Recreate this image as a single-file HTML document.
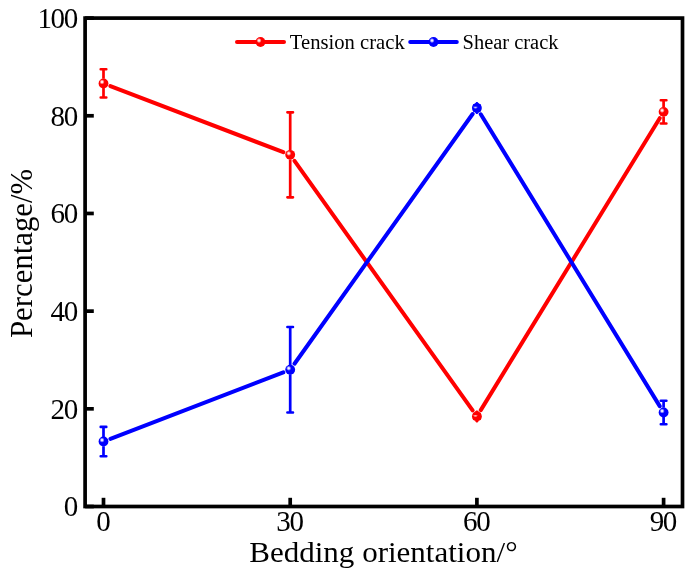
<!DOCTYPE html>
<html><head><meta charset="utf-8"><title>Crack percentage vs bedding orientation</title>
<style>
html,body{margin:0;padding:0;background:#fff;}
svg{display:block;}
text{font-family:"Liberation Serif","Times New Roman",serif;fill:#000;}
</style></head><body>
<svg width="685" height="573" viewBox="0 0 685 573">
<defs>
<radialGradient id="gr" cx="0.35" cy="0.35" r="0.26" fx="0.35" fy="0.35"><stop offset="0" stop-color="#ffffff"/><stop offset="0.3" stop-color="#ffeaea"/><stop offset="1" stop-color="#ff0000"/></radialGradient>
<radialGradient id="gb" cx="0.35" cy="0.35" r="0.26" fx="0.35" fy="0.35"><stop offset="0" stop-color="#ffffff"/><stop offset="0.3" stop-color="#eaeaff"/><stop offset="1" stop-color="#0000ff"/></radialGradient>
</defs>
<rect width="685" height="573" fill="#fff"/>

<line x1="110.41" y1="86.04" x2="283.29" y2="152.21" stroke="#ff0000" stroke-width="4.0" stroke-linecap="round"/>
<line x1="294.50" y1="160.87" x2="472.60" y2="410.37" stroke="#ff0000" stroke-width="4.0" stroke-linecap="round"/>
<line x1="480.77" y1="410.08" x2="659.73" y2="118.18" stroke="#ff0000" stroke-width="4.0" stroke-linecap="round"/>
<circle cx="103.50" cy="83.40" r="4.92" fill="url(#gr)"/>
<circle cx="290.20" cy="154.85" r="4.92" fill="url(#gr)"/>
<circle cx="476.90" cy="416.39" r="4.92" fill="url(#gr)"/>
<circle cx="663.60" cy="111.87" r="4.92" fill="url(#gr)"/>
<path d="M103.50 69.24V78.78M103.50 88.02V97.56" stroke="#ff0000" stroke-width="2.7" fill="none"/>
<path d="M100.70 69.24H106.30M100.70 97.56H106.30" stroke="#ff0000" stroke-width="2.6" stroke-linecap="round" fill="none"/>
<path d="M290.20 112.36V150.23M290.20 159.47V197.34" stroke="#ff0000" stroke-width="2.7" fill="none"/>
<path d="M287.40 112.36H293.00M287.40 197.34H293.00" stroke="#ff0000" stroke-width="2.6" stroke-linecap="round" fill="none"/>
<path d="M474.10 413.84H479.70M474.10 418.94H479.70" stroke="#ff0000" stroke-width="2.6" stroke-linecap="round" fill="none"/>
<path d="M474.80 412.09L476.30 410.39H477.50L479.00 412.09ZM474.80 420.69L476.30 422.39H477.50L479.00 420.69Z" fill="#ff0000"/>
<path d="M663.60 100.30V107.25M663.60 116.49V123.45" stroke="#ff0000" stroke-width="2.7" fill="none"/>
<path d="M660.80 100.30H666.40M660.80 123.45H666.40" stroke="#ff0000" stroke-width="2.6" stroke-linecap="round" fill="none"/>
<line x1="110.41" y1="438.89" x2="283.29" y2="372.40" stroke="#0000ff" stroke-width="4.0" stroke-linecap="round"/>
<line x1="294.50" y1="363.72" x2="472.60" y2="113.99" stroke="#0000ff" stroke-width="4.0" stroke-linecap="round"/>
<line x1="480.77" y1="114.27" x2="659.73" y2="406.17" stroke="#0000ff" stroke-width="4.0" stroke-linecap="round"/>
<circle cx="103.50" cy="441.54" r="4.92" fill="url(#gb)"/>
<circle cx="290.20" cy="369.75" r="4.92" fill="url(#gb)"/>
<circle cx="476.90" cy="107.97" r="4.92" fill="url(#gb)"/>
<circle cx="663.60" cy="412.48" r="4.92" fill="url(#gb)"/>
<path d="M103.50 426.89V436.92M103.50 446.16V456.19" stroke="#0000ff" stroke-width="2.7" fill="none"/>
<path d="M100.70 426.89H106.30M100.70 456.19H106.30" stroke="#0000ff" stroke-width="2.6" stroke-linecap="round" fill="none"/>
<path d="M290.20 327.01V365.13M290.20 374.37V412.48" stroke="#0000ff" stroke-width="2.7" fill="none"/>
<path d="M287.40 327.01H293.00M287.40 412.48H293.00" stroke="#0000ff" stroke-width="2.6" stroke-linecap="round" fill="none"/>
<path d="M474.10 105.42H479.70M474.10 110.52H479.70" stroke="#0000ff" stroke-width="2.6" stroke-linecap="round" fill="none"/>
<path d="M474.80 103.67L476.30 101.97H477.50L479.00 103.67ZM474.80 112.27L476.30 113.97H477.50L479.00 112.27Z" fill="#0000ff"/>
<path d="M663.60 400.76V407.86M663.60 417.10V424.20" stroke="#0000ff" stroke-width="2.7" fill="none"/>
<path d="M660.80 400.76H666.40M660.80 424.20H666.40" stroke="#0000ff" stroke-width="2.6" stroke-linecap="round" fill="none"/>
<rect x="85.1" y="18.1" width="597.4" height="488.4" fill="none" stroke="#000" stroke-width="3.7"/>
<line x1="103.50" y1="506.5" x2="103.50" y2="497.8" stroke="#000" stroke-width="3.7"/>
<text x="102.75" y="531.0" font-size="29.0" letter-spacing="-1.3" text-anchor="middle">0</text>
<line x1="290.20" y1="506.5" x2="290.20" y2="497.8" stroke="#000" stroke-width="3.7"/>
<text x="289.45" y="531.0" font-size="29.0" letter-spacing="-1.3" text-anchor="middle">30</text>
<line x1="476.90" y1="506.5" x2="476.90" y2="497.8" stroke="#000" stroke-width="3.7"/>
<text x="476.15" y="531.0" font-size="29.0" letter-spacing="-1.3" text-anchor="middle">60</text>
<line x1="663.60" y1="506.5" x2="663.60" y2="497.8" stroke="#000" stroke-width="3.7"/>
<text x="662.85" y="531.0" font-size="29.0" letter-spacing="-1.3" text-anchor="middle">90</text>
<line x1="85.1" y1="506.50" x2="93.8" y2="506.50" stroke="#000" stroke-width="3.7"/>
<text x="77.00" y="516.40" font-size="29.0" letter-spacing="-1.3" text-anchor="end">0</text>
<line x1="85.1" y1="408.82" x2="93.8" y2="408.82" stroke="#000" stroke-width="3.7"/>
<text x="77.00" y="418.72" font-size="29.0" letter-spacing="-1.3" text-anchor="end">20</text>
<line x1="85.1" y1="311.14" x2="93.8" y2="311.14" stroke="#000" stroke-width="3.7"/>
<text x="77.00" y="321.04" font-size="29.0" letter-spacing="-1.3" text-anchor="end">40</text>
<line x1="85.1" y1="213.46" x2="93.8" y2="213.46" stroke="#000" stroke-width="3.7"/>
<text x="77.00" y="223.36" font-size="29.0" letter-spacing="-1.3" text-anchor="end">60</text>
<line x1="85.1" y1="115.78" x2="93.8" y2="115.78" stroke="#000" stroke-width="3.7"/>
<text x="77.00" y="125.68" font-size="29.0" letter-spacing="-1.3" text-anchor="end">80</text>
<line x1="85.1" y1="18.10" x2="93.8" y2="18.10" stroke="#000" stroke-width="3.7"/>
<text x="77.00" y="28.00" font-size="29.0" letter-spacing="-1.3" text-anchor="end">100</text>
<text transform="translate(383.4 562.4) scale(1.045 1)" font-size="29.7" text-anchor="middle">Bedding orientation/°</text>
<text transform="translate(31.5 253.4) rotate(-90)" font-size="30.8" text-anchor="middle">Percentage/%</text>
<line x1="237" y1="42" x2="284" y2="42" stroke="#ff0000" stroke-width="4" stroke-linecap="round"/>
<circle cx="260.5" cy="42" r="4.92" fill="url(#gr)"/>
<text transform="translate(289.8 48.5) scale(1.033 1)" font-size="20">Tension crack</text>
<line x1="410.2" y1="42" x2="456.8" y2="42" stroke="#0000ff" stroke-width="4" stroke-linecap="round"/>
<circle cx="433.5" cy="42" r="4.92" fill="url(#gb)"/>
<text transform="translate(462.6 48.5) scale(1.022 1)" font-size="20">Shear crack</text>
</svg></body></html>
